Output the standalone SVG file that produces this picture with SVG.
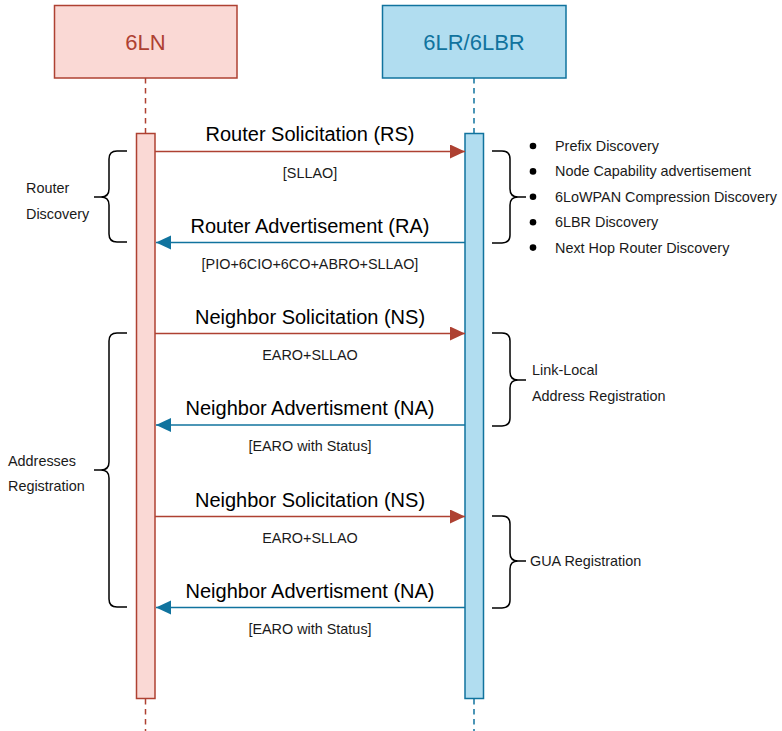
<svg xmlns="http://www.w3.org/2000/svg" width="782" height="731" viewBox="0 0 782 731">
  <defs>
    <style>
      text { font-family: "Liberation Sans", Arial, sans-serif; }
      .head-ln { fill: #fad9d5; stroke: #ae4132; stroke-width: 1.5; }
      .head-lr { fill: #b1ddf0; stroke: #10739e; stroke-width: 1.5; }
      .title { font-size: 22px; text-anchor: middle; }
      .life-ln { stroke: #ae4132; stroke-width: 1.5; stroke-dasharray: 5.5 4.5; fill: none; }
      .life-lr { stroke: #10739e; stroke-width: 1.5; stroke-dasharray: 5.5 4.5; fill: none; }
      .msg-r { stroke: #ae4132; stroke-width: 1.5; fill: none; marker-end: url(#head-red); }
      .msg-b { stroke: #10739e; stroke-width: 1.5; fill: none; marker-end: url(#head-blue); }
      .msg { font-size: 20px; text-anchor: middle; fill: #000; }
      .note { font-size: 14.4px; text-anchor: middle; fill: #1a1a1a; }
      .lbl { font-size: 14.4px; fill: #1a1a1a; }
      .brace { stroke: #000; stroke-width: 1.5; fill: none; }
    </style>
    <marker id="head-red" markerUnits="userSpaceOnUse" markerWidth="16" markerHeight="15" refX="15" refY="7" orient="auto">
      <path d="M0,0 L15,7 L0,14 z" fill="#ae4132"/>
    </marker>
    <marker id="head-blue" markerUnits="userSpaceOnUse" markerWidth="16" markerHeight="15" refX="15" refY="7" orient="auto">
      <path d="M0,0 L15,7 L0,14 z" fill="#10739e"/>
    </marker>
  </defs>

  <!-- participant 6LN -->
  <g id="node-6ln">
    <rect class="head-ln" x="54.5" y="5.5" width="182.5" height="72.5"/>
    <text class="title" x="145.5" y="50" fill="#ae4132">6LN</text>
    <line class="life-ln" x1="145.5" y1="78" x2="145.5" y2="133"/>
    <line class="life-ln" x1="145.5" y1="699" x2="145.5" y2="731"/>
    <rect class="head-ln" x="136.5" y="133.5" width="18.5" height="565"/>
  </g>

  <!-- participant 6LR/6LBR -->
  <g id="node-6lr">
    <rect class="head-lr" x="382.5" y="5.5" width="183.5" height="72.5"/>
    <text class="title" x="474" y="50" fill="#10739e">6LR/6LBR</text>
    <line class="life-lr" x1="474" y1="78" x2="474" y2="133"/>
    <line class="life-lr" x1="474" y1="699" x2="474" y2="731"/>
    <rect class="head-lr" x="465" y="133.5" width="18.5" height="565"/>
  </g>

  <!-- messages -->
  <g id="connectors">
    <line class="msg-r" x1="155" y1="151.5" x2="465" y2="151.5"/>
    <line class="msg-b" x1="465" y1="242.5" x2="156" y2="242.5"/>
    <line class="msg-r" x1="155" y1="333.5" x2="465" y2="333.5"/>
    <line class="msg-b" x1="465" y1="425" x2="156" y2="425"/>
    <line class="msg-r" x1="155" y1="516.5" x2="465" y2="516.5"/>
    <line class="msg-b" x1="465" y1="607.5" x2="156" y2="607.5"/>
  </g>

  <g id="message-labels">
    <text class="msg" x="310" y="141">Router Solicitation (RS)</text>
    <text class="note" x="310" y="177.5">[SLLAO]</text>
    <text class="msg" x="310" y="232.5">Router Advertisement (RA)</text>
    <text class="note" x="310" y="269">[PIO+6CIO+6CO+ABRO+SLLAO]</text>
    <text class="msg" x="310" y="323.5">Neighbor Solicitation (NS)</text>
    <text class="note" x="310" y="360">EARO+SLLAO</text>
    <text class="msg" x="310" y="415">Neighbor Advertisment (NA)</text>
    <text class="note" x="310" y="451">[EARO with Status]</text>
    <text class="msg" x="310" y="506.5">Neighbor Solicitation (NS)</text>
    <text class="note" x="310" y="543">EARO+SLLAO</text>
    <text class="msg" x="310" y="598">Neighbor Advertisment (NA)</text>
    <text class="note" x="310" y="634">[EARO with Status]</text>
  </g>

  <!-- left braces -->
  <g id="brace-router-discovery">
    <path class="brace" d="M127,151 H117 Q109,151 109,159 V189 Q109,197 101,197 H94 M101,197 Q109,197 109,205 V234 Q109,242 117,242 H127"/>
    <text class="lbl" x="26" y="193.3">Router</text>
    <text class="lbl" x="26" y="218.5">Discovery</text>
  </g>
  <g id="brace-addresses-registration">
    <path class="brace" d="M127,333 H117 Q109,333 109,341 V462 Q109,470 101,470 H94 M101,470 Q109,470 109,478 V599 Q109,607 117,607 H127"/>
    <text class="lbl" x="8" y="465.7">Addresses</text>
    <text class="lbl" x="8" y="490.5">Registration</text>
  </g>

  <!-- right braces -->
  <g id="brace-ra-options">
    <path class="brace" d="M492,151 H502 Q510,151 510,159 V189 Q510,197 518,197 H526 M518,197 Q510,197 510,205 V235 Q510,243 502,243 H492"/>
    <circle cx="533" cy="146" r="3.3" fill="#000"/>
    <circle cx="533" cy="171.4" r="3.3" fill="#000"/>
    <circle cx="533" cy="196.8" r="3.3" fill="#000"/>
    <circle cx="533" cy="222.2" r="3.3" fill="#000"/>
    <circle cx="533" cy="247.6" r="3.3" fill="#000"/>
    <text class="lbl" x="555" y="151">Prefix Discovery</text>
    <text class="lbl" x="555" y="176.4">Node Capability advertisement</text>
    <text class="lbl" x="555" y="201.8">6LoWPAN Compression Discovery</text>
    <text class="lbl" x="555" y="227.2">6LBR Discovery</text>
    <text class="lbl" x="555" y="252.6">Next Hop Router Discovery</text>
  </g>
  <g id="brace-link-local">
    <path class="brace" d="M492,333 H502 Q510,333 510,341 V372 Q510,380 518,380 H526 M518,380 Q510,380 510,388 V418 Q510,426 502,426 H492"/>
    <text class="lbl" x="532" y="375.3">Link-Local</text>
    <text class="lbl" x="532" y="400.7">Address Registration</text>
  </g>
  <g id="brace-gua">
    <path class="brace" d="M492,516 H502 Q510,516 510,524 V553 Q510,561 518,561 H526 M518,561 Q510,561 510,569 V600 Q510,608 502,608 H492"/>
    <text class="lbl" x="530" y="566">GUA Registration</text>
  </g>
</svg>
